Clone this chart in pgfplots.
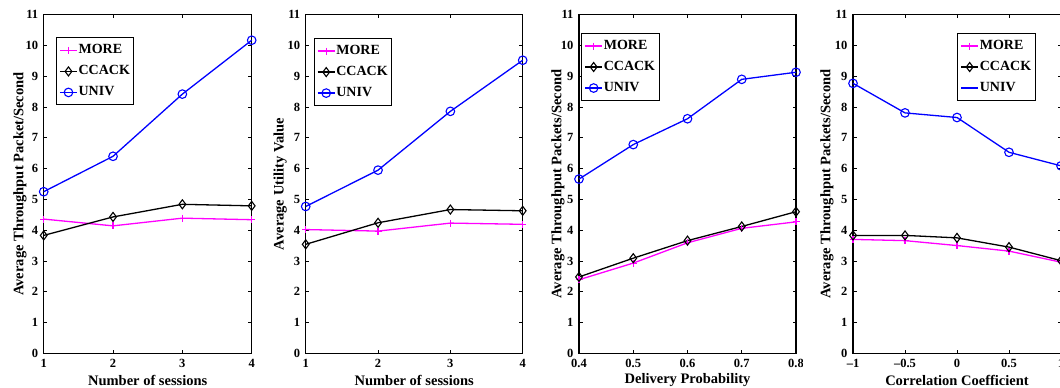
\documentclass[border=0pt]{standalone}
\usepackage{pgfplots}
\pgfplotsset{compat=1.18}
\usepackage{fontspec}
\setmainfont{Liberation Serif}
\definecolor{mag}{RGB}{255,0,255}
\definecolor{univ}{RGB}{0,0,255}

\pgfplotsset{
  myaxis/.style={
    scale only axis, anchor=south west, height=338.6pt,
    ymin=0, ymax=11, ytick={0,1,2,3,4,5,6,7,8,9,10,11},
    yticklabels={0,1,2,3,4,5,6,7,8,9,10,11},
    clip=false,
    axis line style={line width=1.1pt},
    every tick/.style={black, line width=0.8pt},
    major tick length=3.5pt,
    tick label style={font=\fontsize{12.5}{14}\selectfont\bfseries},
    /pgf/number format/assume math mode=true,
    yticklabel style={xshift=-2pt},
    xticklabel style={yshift=-2pt},
    label style={font=\fontsize{14.5}{16}\selectfont\bfseries},
    xlabel style={at={(axis description cs:0.5,-0.08)}, anchor=center},
    legend style={font=\fontsize{14}{16}\selectfont\bfseries, draw=black, line width=1.1pt,
      anchor=north west, inner xsep=3pt, inner ysep=5pt, row sep=6pt,
      nodes={inner sep=1pt, text height=10pt, text depth=3pt}},
    legend cell align=left,
    legend image code/.code={\draw[mark repeat=2,mark phase=2,##1] plot coordinates {(0pt,0pt) (8.5pt,0pt) (17pt,0pt)};},
  },
  pmore/.style={mag, line width=1.3pt, mark=+, mark size=3.5pt, mark options={line width=1.1pt}},
  pcc/.style={black, line width=1.3pt, mark=diamond, mark size=4.5pt, mark options={line width=1.1pt, fill=none}},
  puniv/.style={univ, line width=1.3pt, mark=o, mark size=4.3pt, mark options={line width=1.1pt}},
}

\begin{document}
\begin{tikzpicture}
\path[use as bounding box] (0,0) rectangle (1060pt,388pt);
\clip (0,0) rectangle (1060pt,388pt);

% Panel 1
\begin{axis}[myaxis, at={(43.7pt,34.7pt)}, width=208pt,
  xmin=1, xmax=4, xtick={1,2,3,4}, xticklabels={1,2,3,4},
  xlabel={Number of sessions},
  ylabel={Average Throughput Packet/Second},
  ylabel style={at={(axis description cs:-0.114,0.5)}, anchor=center},
  legend style={at={(axis description cs:0.058,0.933)}}]
\addplot[pmore] coordinates {(1,4.36) (2,4.14) (3,4.39) (4,4.34)};
\addplot[pcc] coordinates {(1,3.83) (2,4.43) (3,4.84) (4,4.79)};
\addplot[puniv] coordinates {(1,5.25) (2,6.40) (3,8.42) (4,10.17)};
\legend{MORE, CCACK\hspace{24pt}, UNIV}
\end{axis}

% Panel 2
\begin{axis}[myaxis, at={(305.7pt,34.7pt)}, width=217pt,
  xmin=1, xmax=4, xtick={1,2,3,4}, xticklabels={1,2,3,4},
  xlabel={Number of sessions},
  ylabel={Average Utility Value},
  ylabel style={at={(axis description cs:-0.118,0.5)}, anchor=center},
  legend style={at={(axis description cs:0.036,0.931)}}]
\addplot[pmore] coordinates {(1,4.02) (2,3.97) (3,4.23) (4,4.19)};
\addplot[pcc] coordinates {(1,3.54) (2,4.24) (3,4.67) (4,4.63)};
\addplot[puniv] coordinates {(1,4.77) (2,5.95) (3,7.86) (4,9.52)};
\legend{MORE, CCACK\hspace{27pt}, UNIV}
\end{axis}

% Panel 3
\begin{scope}
\clip (530pt,0) rectangle (802pt,388pt);
\begin{axis}[myaxis, at={(579pt,34.7pt)}, width=217pt,
  xmin=0.4, xmax=0.8, xtick={0.4,0.5,0.6,0.7,0.8}, xticklabels={0.4,0.5,0.6,0.7,0.8},
  xlabel={Delivery Probability},
  ylabel={Average Throughput Packets/Second},
  ylabel style={at={(axis description cs:-0.097,0.5)}, anchor=center},
  legend style={at={(axis description cs:0.009,0.946)}}]
\addplot[pmore] coordinates {(0.4,2.39) (0.5,2.93) (0.6,3.59) (0.7,4.06) (0.8,4.27)};
\addplot[pcc] coordinates {(0.4,2.48) (0.5,3.09) (0.6,3.66) (0.7,4.12) (0.8,4.60)};
\addplot[puniv] coordinates {(0.4,5.66) (0.5,6.78) (0.6,7.62) (0.7,8.90) (0.8,9.13)};
\legend{MORE, CCACK\hspace{29pt}, UNIV}
\end{axis}
\end{scope}

% Panel 4
\begin{axis}[myaxis, at={(853pt,34.7pt)}, width=208pt,
  xmin=-1, xmax=1, xtick={-1,-0.5,0,0.5,1}, xticklabels={\textendash1,\textendash0.5,0,0.5,1},
  xlabel={Correlation Coefficient},
  ylabel={Average Throughput Packets/Second},
  ylabel style={at={(axis description cs:-0.125,0.5)}, anchor=center},
  legend style={at={(axis description cs:0.5,0.946)}}]
\addplot[pmore] coordinates {(-1,3.70) (-0.5,3.66) (0,3.50) (0.5,3.32) (1,2.96)};
\addplot[pcc] coordinates {(-1,3.83) (-0.5,3.83) (0,3.75) (0.5,3.45) (1,3.01)};
\addplot[puniv, forget plot] coordinates {(-1,8.77) (-0.5,7.81) (0,7.66) (0.5,6.53) (1,6.09)};
\addlegendimage{univ, line width=1.3pt, no marks}
\legend{MORE, CCACK\hspace{23pt}, UNIV}
\end{axis}
\end{tikzpicture}
\end{document}
